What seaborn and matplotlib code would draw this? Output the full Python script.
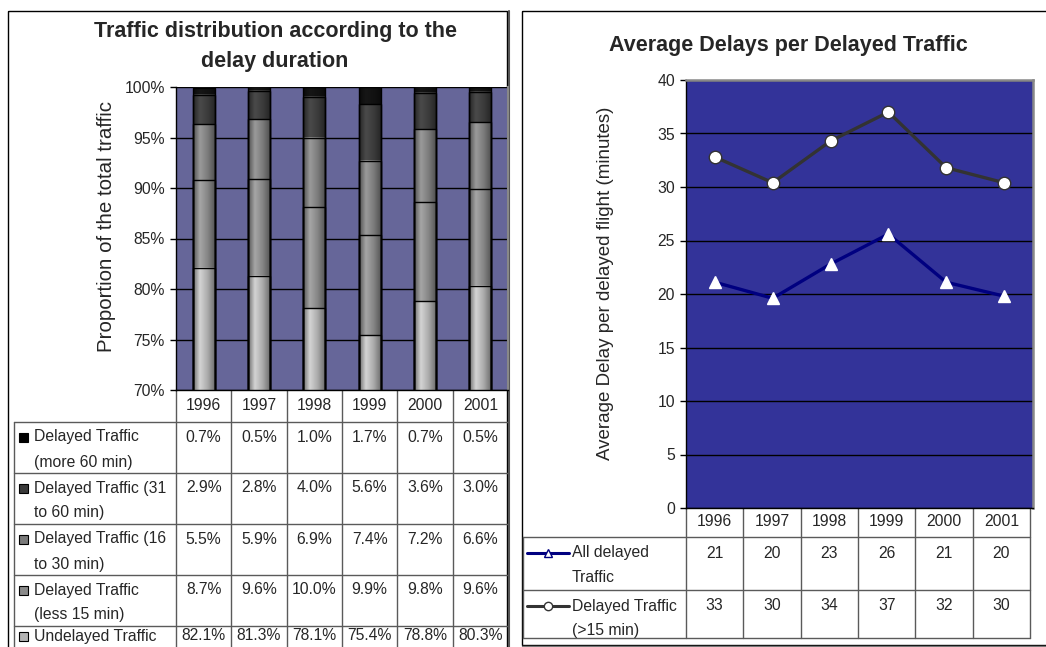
import numpy as np
import pandas as pd
import matplotlib
matplotlib.use("Agg")
import matplotlib.pyplot as plt
from matplotlib.lines import Line2D
from matplotlib.patches import Rectangle
import seaborn as sns

# ---------------------------------------------------------------- data
years = ["1996", "1997", "1998", "1999", "2000", "2001"]

# share of total traffic (%) per delay band
undelayed = [82.1, 81.3, 78.1, 75.4, 78.8, 80.3]
delayed_lt15 = [8.7, 9.6, 10.0, 9.9, 9.8, 9.6]
delayed_16_30 = [5.5, 5.9, 6.9, 7.4, 7.2, 6.6]
delayed_31_60 = [2.9, 2.8, 4.0, 5.6, 3.6, 3.0]
delayed_gt60 = [0.7, 0.5, 1.0, 1.7, 0.7, 0.5]

band_names = ["Undelayed Traffic",
              "Delayed Traffic\n(less 15 min)",
              "Delayed Traffic (16\nto 30 min)",
              "Delayed Traffic (31\nto 60 min)",
              "Delayed Traffic\n(more 60 min)"]

# average delay per delayed flight (minutes)
avg_all_delayed = [21.1, 19.6, 22.8, 25.6, 21.1, 19.8]
avg_delayed_gt15 = [32.8, 30.4, 34.3, 37.0, 31.8, 30.4]
line_names = ["All delayed\nTraffic", "Delayed Traffic\n(>15 min)"]

# ---------------------------------------------------------------- style
sns.set_style("white")
plt.rcParams["font.family"] = ["Liberation Sans", "DejaVu Sans"]

W, H = 1046, 647
fig = plt.figure(figsize=(W / 100, H / 100), dpi=100)


def px_rect(x0, y0, x1, y1):
    return [x0 / W, 1 - y1 / H, (x1 - x0) / W, (y1 - y0) / H]


# full-size canvas in pixel units for frames, titles and data tables
canvas = fig.add_axes([0, 0, 1, 1], zorder=0)
canvas.set_xlim(0, W)
canvas.set_ylim(H, 0)
canvas.axis("off")

GRID = "#5a5a5a"
TXT = 11.3
TICK = 11.3
TITLE = 15.5


def hline(y, x0, x1, color=GRID, lw=1.0):
    canvas.add_line(Line2D([x0, x1], [y, y], color=color, lw=lw))


def vline(x, y0, y1, color=GRID, lw=1.0):
    canvas.add_line(Line2D([x, x], [y0, y1], color=color, lw=lw))


# chart frames
canvas.add_patch(Rectangle((8, 10.5), 499, 700, fill=False, ec="black", lw=1))
vline(508.5, 11, 700, color="#555555", lw=1.5)
canvas.add_patch(Rectangle((521.5, 11), 600, 634, fill=False, ec="black", lw=1))
hline(646, 522, 1046, color="#777777", lw=1)

# ---------------------------------------------------------------- left chart
bands = [undelayed, delayed_lt15, delayed_16_30, delayed_31_60, delayed_gt60]
cum = np.cumsum(np.array(bands), axis=0)
peak = ["#d4d4d4", "#a6a6a6", "#9a9a9a", "#4a4a4a", "#161616"]
key_colors = ["#b4b4b4", "#8a8a8a", "#7a7a7a", "#3a3a3a", "#000000"]

axL = fig.add_axes(px_rect(176, 87, 508, 390), zorder=1)
axL.set_facecolor("#666699")

layer_patches = {}
for k in range(len(bands) - 1, -1, -1):
    n0 = len(axL.patches)
    sns.barplot(x=years, y=cum[k], color=key_colors[k], width=0.4,
                saturation=1, errorbar=None, edgecolor="black",
                linewidth=1.0, ax=axL)
    layer_patches[k] = axL.patches[n0:]


def cylinder(hex_color, n=80):
    base = np.array(matplotlib.colors.to_rgb(hex_color))
    t = np.linspace(0, 1, n)
    prof = np.interp(t, [0, 0.07, 0.3, 0.65, 0.93, 1.0],
                     [0.42, 0.62, 1.0, 0.8, 0.55, 0.4])
    rgb = np.clip(base[None, :] * prof[:, None], 0, 1)
    return rgb[None, :, :]


for k, patches in layer_patches.items():
    grad = cylinder(peak[k])
    for i, p in enumerate(patches):
        lo = cum[k - 1][i] if k > 0 else 0.0
        hi = min(cum[k][i], 100.0)
        x0, w = p.get_x(), p.get_width()
        axL.imshow(grad, extent=(x0, x0 + w, lo, hi), aspect="auto",
                   interpolation="bilinear", zorder=2)
        p.set_facecolor("none")
        p.set_zorder(3)

axL.set_xlim(-0.5, 5.5)
axL.set_ylim(70, 100)
axL.set_yticks(np.arange(70, 101, 5))
axL.set_yticklabels([f"{v}%" for v in range(70, 101, 5)])
axL.set_xticks([])
axL.set_xlabel("")
axL.set_ylabel("")
axL.set_axisbelow(True)
axL.yaxis.grid(True, color="black", lw=1)
axL.tick_params(axis="y", direction="out", length=4, width=1,
                labelsize=TICK, color="black", pad=4, left=True)
for s in ["left", "bottom"]:
    axL.spines[s].set_color("black")
    axL.spines[s].set_linewidth(1)
axL.spines["top"].set_visible(False)
axL.spines["right"].set_color("#888888")
axL.spines["right"].set_linewidth(1.5)

canvas.text(275, 32, "Traffic distribution according to the", ha="center",
            va="center", fontsize=TITLE, fontweight="bold")
canvas.text(275, 62, "delay duration", ha="center", va="center",
            fontsize=TITLE, fontweight="bold")
canvas.text(107, 227, "Proportion of the total traffic", rotation=90,
            ha="center", va="center", fontsize=14.8)

# data table under the bars
cols = np.linspace(176, 508, 7)
rows = [422, 473, 524, 575, 626, 679]
text_off = [15, 15, 15, 15, 10]
for x in cols[:-1]:
    vline(x, 390, 700)
vline(14, 422, 700)
for y in rows[:-1]:
    hline(y, 14, 508)
for i, yr in enumerate(years):
    canvas.text((cols[i] + cols[i + 1]) / 2, 406, yr, ha="center",
                va="center", fontsize=TXT)
for r, k in enumerate(range(len(bands) - 1, -1, -1)):
    yc = rows[r] + text_off[r]
    canvas.add_patch(Rectangle((19, yc - 4.5), 9, 9, fc=key_colors[k],
                               ec="black", lw=0.8))
    for j, line in enumerate(band_names[k].split("\n")):
        canvas.text(34, yc + 25 * j, line, ha="left", va="center",
                    fontsize=TXT)
    for i in range(len(years)):
        canvas.text((cols[i] + cols[i + 1]) / 2, yc,
                    f"{bands[k][i]:.1f}%", ha="center", va="center",
                    fontsize=TXT)

# ---------------------------------------------------------------- right chart
axR = fig.add_axes(px_rect(686, 80, 1033, 508), zorder=1)
axR.set_facecolor("#333399")

line_df = pd.DataFrame({
    "year": years * 2,
    "delay": avg_all_delayed + avg_delayed_gt15,
    "series": [line_names[0]] * 6 + [line_names[1]] * 6,
})
line_colors = ["#000080", "#333333"]
line_markers = ["^", "o"]
for name, col, mk in zip(line_names, line_colors, line_markers):
    sub = line_df[line_df["series"] == name]
    sns.lineplot(data=sub, x="year", y="delay", color=col, lw=2.4,
                 marker=mk, markersize=9,
                 markerfacecolor="white",
                 markeredgecolor="white" if mk == "^" else col,
                 markeredgewidth=1.0, sort=False, ax=axR, zorder=3)

axR.set_xlim(-0.5, 5.5)
axR.set_ylim(0, 40)
axR.set_yticks(np.arange(0, 41, 5))
axR.set_xticks([])
axR.set_xlabel("")
axR.set_ylabel("")
axR.set_axisbelow(True)
axR.yaxis.grid(True, color="black", lw=1)
axR.tick_params(axis="y", direction="out", length=4, width=1,
                labelsize=TICK, color="black", pad=4, left=True)
for s in ["left", "bottom"]:
    axR.spines[s].set_color("black")
    axR.spines[s].set_linewidth(1)
for s in ["top", "right"]:
    axR.spines[s].set_color("#888888")
    axR.spines[s].set_linewidth(1.8)

canvas.text(788, 46, "Average Delays per Delayed Traffic", ha="center",
            va="center", fontsize=TITLE, fontweight="bold")
canvas.text(605, 283, "Average Delay per delayed flight (minutes)",
            rotation=90, ha="center", va="center", fontsize=13.5)

# data table under the lines
rcols = np.linspace(686, 1030, 7)
rrows = [537, 590, 638]
for x in rcols:
    vline(x, 508, 638)
vline(523, 537, 638)
for y in rrows:
    hline(y, 523, 1030)
for i, yr in enumerate(years):
    canvas.text((rcols[i] + rcols[i + 1]) / 2, 522, yr, ha="center",
                va="center", fontsize=TXT)
series_vals = [avg_all_delayed, avg_delayed_gt15]
for r in range(2):
    top = rrows[r]
    canvas.add_line(Line2D([527, 548, 569], [top + 16] * 3,
                           color=line_colors[r], lw=2.2,
                           marker=line_markers[r], markevery=[1],
                           markersize=6,
                           markerfacecolor="white",
                           markeredgecolor=line_colors[r],
                           markeredgewidth=1.0))
    for j, line in enumerate(line_names[r].split("\n")):
        canvas.text(572, top + 16 + 24 * j, line, ha="left", va="center",
                    fontsize=TXT)
    for i in range(len(years)):
        canvas.text((rcols[i] + rcols[i + 1]) / 2, top + 16,
                    f"{series_vals[r][i]:.0f}", ha="center", va="center",
                    fontsize=TXT)

fig.savefig("out.png", dpi=100)
